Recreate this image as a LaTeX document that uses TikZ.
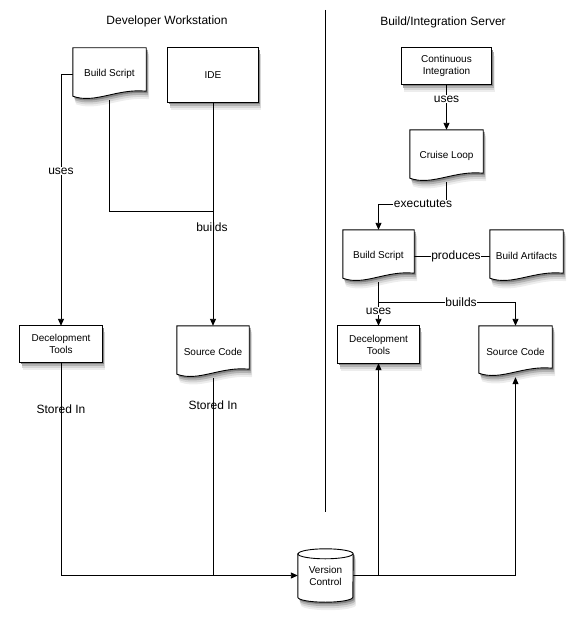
\documentclass[tikz,border=0pt]{standalone}
\usepackage{fontspec}
\setmainfont{Liberation Sans}
\usetikzlibrary{calc,arrows.meta}
\def\sx{0}
\def\sy{0}
\tikzset{
  box/.style={inner sep=0pt, draw=none},
  txt/.style={inner sep=0pt, align=center, font=\fontsize{10}{12}\selectfont},
  lbl/.style={font=\fontsize{12}{14}\selectfont, inner sep=0.5pt},
  lblw/.style={lbl, fill=white},
  ttl/.style={font=\fontsize{12}{14}\selectfont},
  conn/.style={line width=0.9pt},
  arr/.style={conn, -{Triangle[length=7pt,width=6pt]}},
  outline/.style={draw=black, line width=0.9pt, fill=white},
  docp/.style={insert path={($(#1.north west)+(\sx,\sy)$) -- ($(#1.north east)+(\sx,\sy)$) -- ($(#1.south east)+(\sx,\sy-9)$)
     .. controls ($(#1.south west)!0.6!(#1.south east)+(\sx,\sy-12)$) and ($(#1.south west)!0.3!(#1.south east)+(\sx,\sy+4)$)
     .. ($(#1.south west)+(\sx,\sy-4)$) -- cycle}},
  recp/.style={insert path={($(#1.north west)+(\sx,\sy)$) rectangle ($(#1.south east)+(\sx,\sy)$)}},
  cylp/.style={insert path={($(#1.north west)+(\sx,\sy+5)$) -- ($(#1.south west)+(\sx,\sy-5)$)
   arc[start angle=180,end angle=360,x radius=27.5pt,y radius=5pt]
   -- ($(#1.north east)+(\sx,\sy+5)$)
   arc[start angle=0,end angle=180,x radius=27.5pt,y radius=5pt] -- cycle}},
}
\newcommand\allshapes[1]{%
  \path[#1,docp=bs1]; \path[#1,recp=ide]; \path[#1,recp=dt1]; \path[#1,docp=sc1];
  \path[#1,recp=ci]; \path[#1,docp=cl]; \path[#1,docp=bs2]; \path[#1,docp=ba];
  \path[#1,recp=dt2]; \path[#1,docp=sc2]; \path[#1,cylp=vc];}
\begin{document}
\begin{tikzpicture}[x=1pt,y=-1pt]
\useasboundingbox (0,0) rectangle (582,626);
% node frames
\node[box, minimum width=73pt, minimum height=52pt] (bs1) at (109.5,74) {};
\node[box, minimum width=90pt, minimum height=54pt] (ide) at (213,75) {};
\node[box, minimum width=82pt, minimum height=36pt] (dt1) at (61,344) {};
\node[box, minimum width=72pt, minimum height=52pt] (sc1) at (213,352) {};
\node[box, minimum width=55pt, minimum height=53pt] (vc) at (325.5,575.5) {};
\node[box, minimum width=90pt, minimum height=36pt] (ci) at (446.5,66) {};
\node[box, minimum width=73pt, minimum height=52pt] (cl) at (446.5,156) {};
\node[box, minimum width=71pt, minimum height=52pt] (bs2) at (378.5,256) {};
\node[box, minimum width=73pt, minimum height=52pt] (ba) at (526.5,256) {};
\node[box, minimum width=81pt, minimum height=37pt] (dt2) at (378.5,344.5) {};
\node[box, minimum width=73pt, minimum height=51pt] (sc2) at (515.5,351.5) {};
% helper coordinates
\coordinate (d1) at (325,10);
\coordinate (d2) at (325,512);
\coordinate (j1) at (213,211);
\coordinate (j2) at (378.5,204);
\coordinate (j3) at (378.5,302);
% shadows
\begin{scope}\def\sx{3}\def\sy{8}\allshapes{fill=black!7}\end{scope}
\begin{scope}\def\sx{2.5}\def\sy{6}\allshapes{fill=black!16}\end{scope}
\begin{scope}\def\sx{2}\def\sy{4}\allshapes{fill=black!30}\end{scope}
\begin{scope}\def\sx{1.5}\def\sy{2}\allshapes{fill=black!48}\end{scope}
% connectors
\draw[conn] (d1) -- (d2);
\draw[arr] (bs1.west) -| (dt1.north);
\draw[conn] (bs1.south) |- (j1);
\draw[arr] (ide.south) -- (sc1.north);
\draw[arr] (dt1.south) |- (vc.west);
\draw[conn] (sc1.south) -- (sc1.south |- vc.west);
\draw[arr] (vc.east) -| (sc2.south);
\draw[arr] (dt2.south |- vc.east) -- (dt2.south);
\draw[arr] (ci.south) -- (cl.north);
\draw[arr] (cl.south) |- (j2) -- (bs2.north);
\draw[conn] (bs2.east) -- (ba.west);
\draw[arr] (bs2.south) -- (j3) -- (dt2.north);
\draw[arr] (j3) -| (sc2.north);
% shapes
\allshapes{outline}
\draw[line width=0.9pt] ($(vc.north west)+(0,5)$) arc[start angle=180,end angle=360,x radius=27.5pt,y radius=5pt];
% texts
\node[ttl] (t1) at (167,21) {Developer Workstation};
\node[ttl] (t2) at (443,22) {Build/Integration Server};
\node[txt] (bs1t) at (bs1) {Build Script};
\node[txt] (idet) at (ide) {IDE};
\node[txt] (dt1t) at (dt1) {Decelopment\\Tools};
\node[txt] (sc1t) at (sc1) {Source Code};
\node[txt] (vct) at (vc) {Version\\Control};
\node[txt] (cit) at (ci) {Continuous\\Integration};
\node[txt] (clt) at (cl) {Cruise Loop};
\node[txt] (bs2t) at (bs2) {Build Script};
\node[txt] (bat) at (ba) {Build Artifacts};
\node[txt] (dt2t) at (dt2) {Decelopment\\Tools};
\node[txt] (sc2t) at (sc2) {Source Code};
% labels
\node[lblw] (l1) at (61,171) {uses};
\node[lbl] (l2) at (212,227) {builds};
\node[lbl] (l3) at (61,409) {Stored In};
\node[lbl] (l4) at (213,405) {Stored In};
\node[lblw] (l5) at (446.5,99) {uses};
\node[lblw] (l6) at (423,204) {execututes};
\node[lblw] (l7) at (456,256) {produces};
\node[lblw] (l8) at (461,302) {builds};
\node[lblw] (l9) at (378.5,311) {uses};
\end{tikzpicture}
\end{document}
